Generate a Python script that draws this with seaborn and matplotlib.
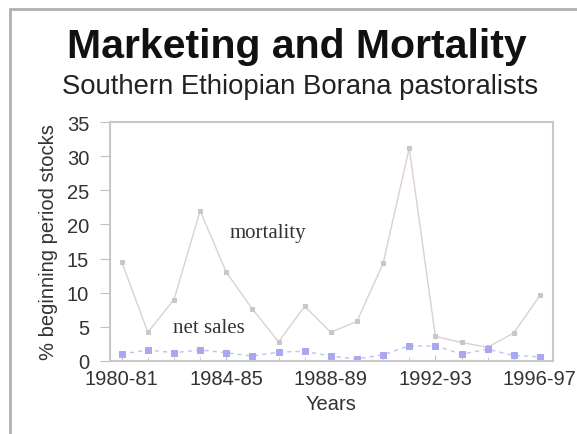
import pandas as pd
import matplotlib
matplotlib.use('Agg')
import matplotlib.pyplot as plt
import seaborn as sns

# Data
years = ['1980-81', '1981-82', '1982-83', '1983-84', '1984-85', '1985-86', '1986-87', '1987-88',
         '1988-89', '1989-90', '1990-91', '1991-92', '1992-93', '1993-94', '1994-95', '1995-96',
         '1996-97']
mortality = [14.5, 4.2, 9.0, 22.0, 13.0, 7.6, 2.8, 8.0, 4.2, 5.8, 14.3, 31.2, 3.6, 2.7, 2.0, 4.1, 9.6]
net_sales = [1.0, 1.6, 1.2, 1.6, 1.2, 0.7, 1.3, 1.4, 0.7, 0.3, 0.9, 2.2, 2.2, 1.0, 1.7, 0.8, 0.6]
label_years = ['1980-81', '1984-85', '1988-89', '1992-93', '1996-97']

df = pd.DataFrame({'idx': range(len(years)), 'year': years,
                   'mortality': mortality, 'net_sales': net_sales})

sns.set_style('white')
plt.rcParams['font.family'] = ['Liberation Sans', 'DejaVu Sans']

fig = plt.figure(figsize=(5.77, 4.35), dpi=100)
ax = fig.add_axes([0.1906, 0.168, 0.7678, 0.549])

sns.lineplot(data=df, x='idx', y='mortality', ax=ax, color='#dcd0d0', linewidth=1.0,
             marker='s', markersize=3.5, markerfacecolor='#c8c8c8', markeredgecolor='#c8c8c8')
sns.lineplot(data=df, x='idx', y='net_sales', ax=ax, color='#c0c0f2', linewidth=1.0,
             linestyle=(0, (3, 3)), marker='s', markersize=5,
             markerfacecolor='#a8a8f0', markeredgecolor='#a8a8f0')

ax.set_xlim(-0.45, 16.5)
ax.set_ylim(0, 35)
ax.set_yticks(range(0, 36, 5))
ax.set_xticks([years.index(y) for y in label_years])
ax.set_xticklabels(label_years)
ax.set_xticks(range(len(years)), minor=True)
ax.tick_params(axis='both', which='both', color='#c0c0c0', labelsize=14.5,
               labelcolor='#333333')
ax.tick_params(axis='x', which='major', direction='in', length=4, pad=6)
ax.tick_params(axis='x', which='minor', direction='in', length=3)
ax.tick_params(axis='y', direction='out', length=7, pad=8, left=True)
ax.tick_params(axis='x', bottom=True, which='both')
for s in ax.spines.values():
    s.set_color('#c8c8c8')
    s.set_linewidth(1.5)

ax.set_xlabel('Years', fontsize=14.5, color='#333333', labelpad=4)
ax.set_ylabel('% beginning period stocks', fontsize=14.5, color='#333333', labelpad=6)

ax.text(5.6, 18.8, 'mortality', family='Liberation Serif', fontsize=15, color='#333333',
        ha='center', va='center')
ax.text(3.34, 4.9, 'net sales', family='Liberation Serif', fontsize=15, color='#333333',
        ha='center', va='center')

fig.text(0.515, 0.892, 'Marketing and Mortality', fontsize=29.5, fontweight='bold',
         ha='center', va='center', color='#111111')
fig.text(0.52, 0.80, 'Southern Ethiopian Borana pastoralists', fontsize=19.8,
         ha='center', va='center', color='#222222')

# slide border
fig.add_artist(plt.Line2D([0.018, 0.018], [0.0, 0.977], color='#b0b0b0', linewidth=2))
fig.add_artist(plt.Line2D([0.018, 1.0], [0.977, 0.977], color='#b0b0b0', linewidth=2))

fig.savefig('out.png', dpi=100)
